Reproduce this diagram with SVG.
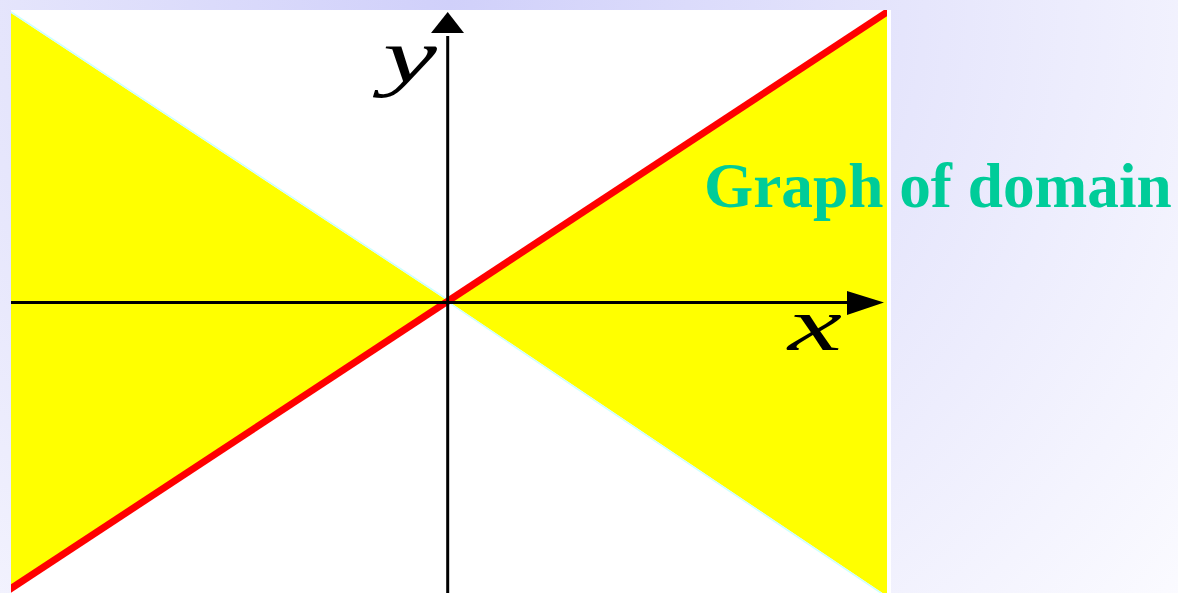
<svg xmlns="http://www.w3.org/2000/svg" width="1178" height="593" viewBox="0 0 1178 593">
  <defs>
    <radialGradient id="bg" cx="450" cy="0" r="950" gradientUnits="userSpaceOnUse">
      <stop offset="0" stop-color="#d0d0fa"/>
      <stop offset="0.5" stop-color="#e6e6fc"/>
      <stop offset="1" stop-color="#fbfbff"/>
    </radialGradient>
    <clipPath id="plot">
      <rect x="11" y="10" width="876" height="583"/>
    </clipPath>
    <style>
      .yel { fill: #ffff00; stroke: none; }
      .edge { stroke: #ccffff; stroke-width: 1.5; fill: none; }
      .axis { stroke: #000000; stroke-width: 3; fill: none; }
      .head { fill: #000000; stroke: none; }
      .lbl { font-family: "Liberation Serif", "Times New Roman", serif; font-style: italic; font-size: 76px; fill: #000000; }
      .title { font-family: "Liberation Serif", "Times New Roman", serif; font-weight: bold; font-size: 63.3px; fill: #00cc99; }
    </style>
  </defs>
  <rect x="0" y="0" width="1178" height="593" fill="url(#bg)"/>
  <g id="plot-area">
    <rect x="11" y="10" width="880" height="583" fill="#ffffff"/>
    <g clip-path="url(#plot)">
      <polygon class="yel" points="11,13 448,301 11,589"/>
      <polygon class="yel" points="448,301 887,12 887,596"/>
      <line class="edge" x1="11" y1="12" x2="448" y2="300"/>
      <line class="edge" x1="448" y1="302" x2="887" y2="597"/>
      <line x1="5" y1="592.5" x2="893" y2="8.2" stroke="#ff0000" stroke-width="7"/>
    </g>
  </g>
  <g id="axes">
    <line class="axis" x1="11" y1="302.5" x2="850" y2="302.5"/>
    <polygon class="head" points="847,291 884,302.5 847,315"/>
    <line class="axis" x1="447.7" y1="36" x2="447.7" y2="593"/>
    <polygon class="head" points="447.7,12 431,33 464,33"/>
  </g>
  <g id="labels">
    <text class="lbl" transform="translate(383,82) scale(1.6,1)">y</text>
    <text class="lbl" transform="translate(788,350) scale(1.6,1)">x</text>
  </g>
  <text class="title" x="704" y="207">Graph of domain</text>
</svg>
